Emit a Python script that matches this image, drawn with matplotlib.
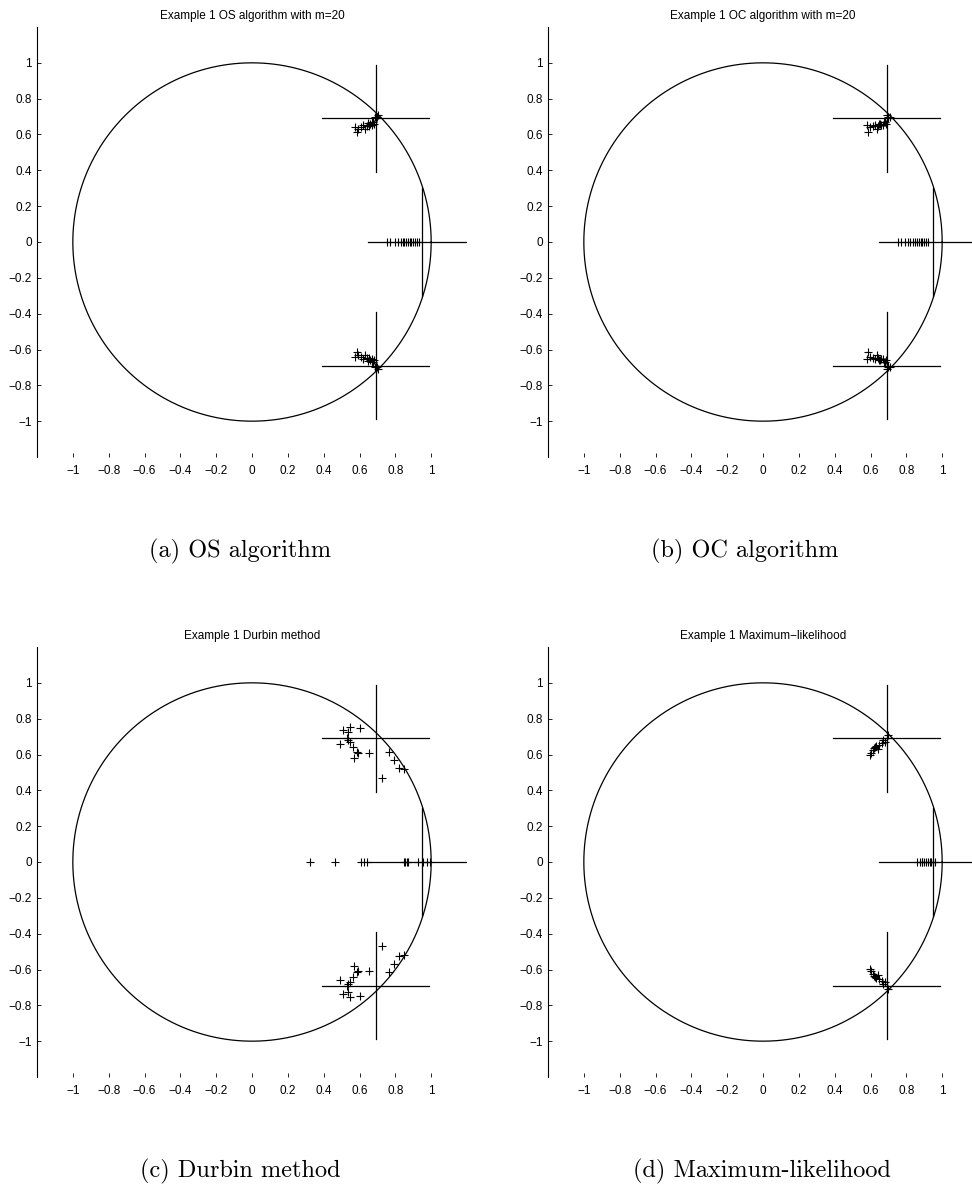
import numpy as np
import matplotlib
matplotlib.use('Agg')
import matplotlib.pyplot as plt

# true pole locations (conjugate pair + real pole)
true_re = [0.69, 0.95]
true_im = [0.69, 0.0]

# estimated poles (upper half plane; the conjugates are drawn too)
os_re = [0.575, 0.585, 0.59, 0.61, 0.622, 0.631, 0.64, 0.65, 0.655, 0.66, 0.669,
         0.672, 0.678, 0.68, 0.687, 0.69, 0.70, 0.706]
os_im = [0.644, 0.616, 0.63, 0.64, 0.654, 0.63, 0.645, 0.663, 0.65, 0.66, 0.654,
         0.668, 0.672, 0.66, 0.70, 0.69, 0.695, 0.709]
os_real = [0.755, 0.77, 0.80, 0.815, 0.83, 0.84, 0.85, 0.86, 0.87, 0.88,
           0.89, 0.90, 0.91, 0.92, 0.93]

oc_re = [0.579, 0.588, 0.595, 0.615, 0.625, 0.635, 0.64, 0.65, 0.654, 0.66, 0.67,
         0.675, 0.68, 0.685, 0.69, 0.695, 0.70, 0.71]
oc_im = [0.654, 0.616, 0.64, 0.645, 0.654, 0.63, 0.65, 0.66, 0.66, 0.655, 0.654,
         0.668, 0.67, 0.66, 0.709, 0.69, 0.70, 0.70]
oc_real = [0.755, 0.77, 0.79, 0.81, 0.82, 0.835, 0.85, 0.86, 0.87, 0.88,
           0.89, 0.90, 0.91, 0.92]

du_re = [0.51, 0.547, 0.603, 0.538, 0.529, 0.538, 0.547, 0.49, 0.562, 0.585,
         0.572, 0.594, 0.653, 0.762, 0.793, 0.818, 0.846, 0.724]
du_im = [0.737, 0.752, 0.75, 0.728, 0.69, 0.68, 0.672, 0.66, 0.644, 0.616,
         0.578, 0.606, 0.61, 0.612, 0.57, 0.523, 0.517, 0.47]
du_real = [0.324, 0.464, 0.609, 0.626, 0.644, 0.846, 0.855, 0.864, 0.873,
           0.929, 0.957, 0.976, 0.994]

ml_re = [0.597, 0.605, 0.616, 0.62, 0.625, 0.63, 0.643, 0.65, 0.663, 0.672,
         0.68, 0.69, 0.70]
ml_im = [0.598, 0.61, 0.626, 0.635, 0.64, 0.645, 0.63, 0.655, 0.663, 0.68,
         0.67, 0.69, 0.71]
ml_real = [0.86, 0.875, 0.885, 0.89, 0.90, 0.91, 0.92, 0.93, 0.94, 0.95, 0.96]

titles = ['Example 1 OS algorithm with m=20', 'Example 1 OC algorithm with m=20',
          'Example 1 Durbin method', 'Example 1 Maximum\u2212likelihood']
captions = ['(a) OS algorithm', '(b) OC algorithm', '(c) Durbin method',
            '(d) Maximum-likelihood']
ticks = [-1, -0.8, -0.6, -0.4, -0.2, 0, 0.2, 0.4, 0.6, 0.8, 1]

panels = [(os_re, os_im, os_real), (oc_re, oc_im, oc_real),
          (du_re, du_im, du_real), (ml_re, ml_im, ml_real)]

W, H = 972, 1188
fig = plt.figure(figsize=(W / 100, H / 100), dpi=100)
lefts = [37, 548]
bottoms = [1188 - 457, 1188 - 1077]
size = 430
# caption centres (px)
cap_x = [[240, 745], [240, 762]]

plt.rcParams['font.family'] = ['Liberation Sans', 'DejaVu Sans']

theta = np.linspace(0, 2 * np.pi, 400)
half = 0.3
labels = [('%g' % t).replace('-', '\u2212') for t in ticks]

for k, (re, im, real) in enumerate(panels):
    row, col = divmod(k, 2)
    ax = fig.add_axes([lefts[col] / W, bottoms[row] / H, size / W, size / H])
    ax.plot(np.cos(theta), np.sin(theta), color='black', lw=0.9)

    # crosses at the true poles
    for xr, yi in zip(true_re, true_im):
        for s in ([1, -1] if yi != 0 else [1]):
            ax.plot([xr - half, xr + half], [s * yi, s * yi], color='black', lw=0.9)
            ax.plot([xr, xr], [s * yi - half, s * yi + half], color='black', lw=0.9)

    re = np.array(re)
    im = np.array(im)
    ax.plot(re, im, '+', color='black', ms=6, mew=0.8)
    ax.plot(re, -im, '+', color='black', ms=6, mew=0.8)
    ax.plot(real, np.zeros(len(real)), '+', color='black', ms=6, mew=0.8)

    ax.set_xlim(-1.2, 1.2)
    ax.set_ylim(-1.2, 1.2)
    ax.set_xticks(ticks)
    ax.set_yticks(ticks)
    ax.set_xticklabels(labels)
    ax.set_yticklabels(labels)
    ax.tick_params(labelsize=8.5, length=3, width=0.6, direction='in')
    ax.tick_params(axis='x', pad=6)
    for side in ['top', 'right', 'bottom']:
        ax.spines[side].set_visible(False)
    ax.spines['left'].set_linewidth(0.8)
    ax.set_title(titles[k], fontsize=8.5, pad=6)

    cy = (bottoms[row] - 94) / H
    fig.text(cap_x[row][col] / W, cy, captions[k], ha='center', va='center',
             fontsize=17.5, family='cmr10')

fig.savefig('out.png', dpi=100)
